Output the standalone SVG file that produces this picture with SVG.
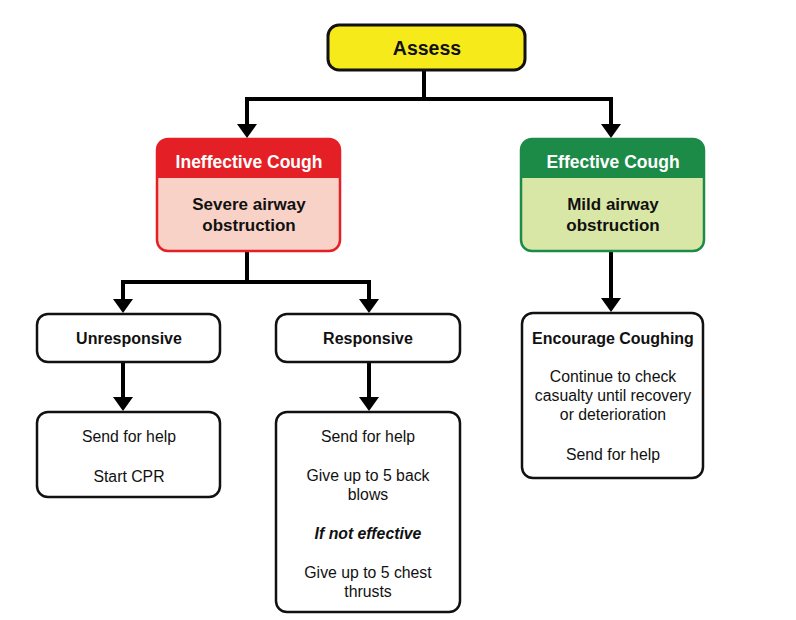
<svg xmlns="http://www.w3.org/2000/svg" width="796" height="620" viewBox="0 0 796 620">
<defs>
<marker id="ah" viewBox="0 0 14 20" refX="1" refY="10" markerWidth="14" markerHeight="20" markerUnits="userSpaceOnUse" orient="auto">
<path d="M0,0 L14,10 L0,20 Z" fill="#000"/>
</marker>
</defs>
<style>
text{font-family:"Liberation Sans",Arial,sans-serif;text-anchor:middle;fill:#111}
.b{font-weight:bold}
.h{font-weight:bold;font-size:17.5px;fill:#fff}
.m{font-weight:bold;font-size:17px}
.s{font-weight:bold;font-size:16px}
.t{font-size:15.8px}
.box{fill:#fff;stroke:#111;stroke-width:2.5}
.con{fill:none;stroke:#000;stroke-width:4;stroke-linejoin:miter}
</style>
<rect width="796" height="620" fill="#fff"/>
<g id="connectors">
<path class="con" d="M424,70 V99 H247 V125" marker-end="url(#ah)"/>
<path class="con" d="M424,99 H611 V125" marker-end="url(#ah)"/>
<path class="con" d="M247,251 V282 H123 V300" marker-end="url(#ah)"/>
<path class="con" d="M247,282 H369 V300" marker-end="url(#ah)"/>
<path class="con" d="M123,362 V398" marker-end="url(#ah)"/>
<path class="con" d="M369,362 V398" marker-end="url(#ah)"/>
<path class="con" d="M611,251 V299" marker-end="url(#ah)"/>
</g>
<g id="assess">
<rect x="328" y="25" width="197" height="45" rx="11" fill="#f6ea1b" stroke="#111" stroke-width="3"/>
<text x="427" y="55" class="b" font-size="19.5">Assess</text>
</g>
<g id="ineffective">
<rect x="157" y="139" width="183" height="112" rx="11" fill="#f8d1c7"/>
<path d="M157,178 V150 Q157,139 168,139 H329 Q340,139 340,150 V178 Z" fill="#e41f26"/>
<rect x="157" y="139" width="183" height="112" rx="11" fill="none" stroke="#e41f26" stroke-width="2.5"/>
<text x="249" y="168" class="h">Ineffective Cough</text>
<text x="249" y="210" class="m">Severe airway</text>
<text x="249" y="231" class="m">obstruction</text>
</g>
<g id="effective">
<rect x="521" y="139" width="183" height="112" rx="11" fill="#d9e7a6"/>
<path d="M521,178 V150 Q521,139 532,139 H693 Q704,139 704,150 V178 Z" fill="#1c8b47"/>
<rect x="521" y="139" width="183" height="112" rx="11" fill="none" stroke="#1c8b47" stroke-width="2.5"/>
<text x="613" y="168" class="h">Effective Cough</text>
<text x="613" y="210" class="m">Mild airway</text>
<text x="613" y="231" class="m">obstruction</text>
</g>
<g id="unresponsive">
<rect class="box" x="37" y="314" width="183" height="48" rx="11"/>
<text x="129" y="344" class="s">Unresponsive</text>
</g>
<g id="responsive">
<rect class="box" x="276" y="314" width="184" height="48" rx="11"/>
<text x="368" y="344" class="s">Responsive</text>
</g>
<g id="unresponsive-actions">
<rect class="box" x="37" y="412" width="183" height="85" rx="11"/>
<text x="129" y="442" class="t">Send for help</text>
<text x="129" y="482" class="t">Start CPR</text>
</g>
<g id="responsive-actions">
<rect class="box" x="276" y="412" width="184" height="200" rx="11"/>
<text x="368" y="442" class="t">Send for help</text>
<text x="368" y="481" class="t">Give up to 5 back</text>
<text x="368" y="500" class="t">blows</text>
<text x="368" y="539" class="t" font-weight="bold" font-style="italic">If not effective</text>
<text x="368" y="578" class="t">Give up to 5 chest</text>
<text x="368" y="597" class="t">thrusts</text>
</g>
<g id="encourage">
<rect class="box" x="522" y="313" width="181" height="165" rx="11"/>
<text x="613" y="344" class="s">Encourage Coughing</text>
<text x="613" y="382" class="t">Continue to check</text>
<text x="613" y="401" class="t">casualty until recovery</text>
<text x="613" y="420" class="t">or deterioration</text>
<text x="613" y="460" class="t">Send for help</text>
</g>
</svg>
